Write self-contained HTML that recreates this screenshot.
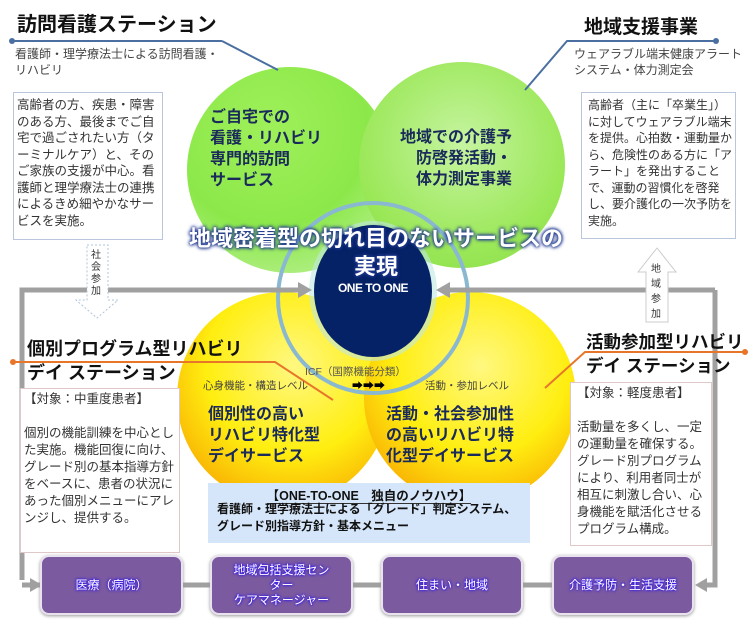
<!DOCTYPE html>
<html><head><meta charset="utf-8"><style>
body{margin:0;width:752px;height:639px;background:#fff;position:relative;overflow:hidden;font-family:"Liberation Sans","Noto Sans CJK JP",sans-serif;}
.a{position:absolute;white-space:nowrap;}
.h{font-weight:bold;color:#111;font-size:19px;}
.box{position:absolute;border:1px solid #b9c6dc;background:#fff;font-size:12.5px;color:#333;line-height:16.5px;padding:4px 5px;box-sizing:border-box;white-space:normal;}
.ct{font-weight:bold;color:#1a2a5a;font-size:16px;line-height:21px;}
.pb{position:absolute;background:#7b5aa0;border-radius:9px;border:2px solid #e8e2ee;box-shadow:0 1px 3px #999;color:#fff;font-size:12px;text-shadow:0 0 3px #20f,0 0 2px #20f;display:flex;align-items:center;justify-content:center;text-align:center;line-height:15px;box-sizing:border-box;}
</style></head><body>
<svg width="752" height="639" style="position:absolute;left:0;top:0">
<defs>
<radialGradient id="g" cx="0.4" cy="0.3" r="0.8"><stop offset="0" stop-color="#9ff05a"/><stop offset="0.6" stop-color="#8ce84a"/><stop offset="1" stop-color="#b8f090"/></radialGradient>
<radialGradient id="g2" cx="0.5" cy="0.4" r="0.7"><stop offset="0" stop-color="#c6f4a0"/><stop offset="0.7" stop-color="#9ce85a"/><stop offset="1" stop-color="#8de04a"/></radialGradient>
<radialGradient id="y" cx="0.55" cy="0.35" r="0.75"><stop offset="0" stop-color="#fff880"/><stop offset="0.55" stop-color="#ffee10"/><stop offset="1" stop-color="#f7a000"/></radialGradient>
</defs>
<circle cx="290" cy="170" r="103" fill="url(#g)"/>
<circle cx="462" cy="165" r="103" fill="url(#g2)"/>
<circle cx="283" cy="398" r="106" fill="url(#y)"/>
<circle cx="470" cy="398" r="106" fill="url(#y)"/>
<circle cx="373" cy="298" r="95" fill="none" stroke="#8ab8d0" stroke-width="4"/>
<ellipse cx="373" cy="291" rx="64" ry="70" fill="#bfe8e0" opacity="0.6"/>
<ellipse cx="373" cy="291" rx="59" ry="66" fill="#062266"/>
<g stroke="#a0a0a0" stroke-width="5" fill="none">
<polyline points="22,580 22,290 300,290"/>
<polyline points="22,585 40,585"/>
<polyline points="715,290 715,585 700,585"/>
<polyline points="715,290 448,290"/>
<line x1="182" y1="585" x2="552" y2="585"/>
</g>
<polygon points="312,290 298,282 298,298" fill="#a0a0a0"/>
<polygon points="436,290 450,282 450,298" fill="#a0a0a0"/>
<polygon points="42,585 30,578 30,592" fill="#a0a0a0"/>
<polygon points="695,585 707,578 707,592" fill="#a0a0a0"/>
<line x1="10" y1="41" x2="222" y2="41" stroke="#4a6fa0" stroke-width="2"/>
<line x1="222" y1="41" x2="278" y2="70" stroke="#4a6fa0" stroke-width="2"/>
<circle cx="12" cy="41" r="3" fill="#4a6fa0"/>
<polyline points="525,90 567,41 716,41" stroke="#4a6fa0" stroke-width="2" fill="none"/>
<circle cx="716" cy="41" r="3" fill="#4a6fa0"/>
<polyline points="12,362 275,362 333,400" stroke="#e8762a" stroke-width="2" fill="none"/>
<circle cx="13" cy="362" r="3" fill="#e8762a"/>
<polyline points="545,388 585,352 745,352" stroke="#e8762a" stroke-width="2" fill="none"/>
<circle cx="745" cy="352" r="3" fill="#e8762a"/>
<polygon points="87,245 108,245 108,300 118,300 97,318 76,300 87,300" fill="#fff" stroke="#b0c4d8" stroke-dasharray="2,2"/>
<polygon points="638,272 657,248 676,272 668,272 668,322 646,322 646,272" fill="#fff" stroke="#ccc"/>
<rect x="208" y="483" width="322" height="60" fill="#d6e6fa"/>
</svg>
<div class="a h" style="left:17px;top:8px;font-size:20px;">訪問看護ステーション</div>
<div class="a" style="left:15px;top:46px;font-size:12px;color:#444;line-height:16px;">看護師・理学療法士による訪問看護・<br>リハビリ</div>
<div class="box" style="left:13px;top:92px;width:150px;height:148px;padding:4px 3px;">高齢者の方、疾患・障害のある方、最後までご自宅で過ごされたい方（ターミナルケア）と、そのご家族の支援が中心。看護師と理学療法士の連携によるきめ細やかなサービスを実施。</div>
<div class="a" style="left:91px;top:250px;font-size:10px;color:#333;line-height:12px;width:12px;white-space:normal;">社会参加</div>
<div class="a h" style="left:584px;top:12px;">地域支援事業</div>
<div class="a" style="left:574px;top:46px;font-size:12px;color:#444;line-height:16px;">ウェアラブル端末健康アラート<br>システム・体力測定会</div>
<div class="box" style="left:581px;top:92px;width:155px;height:147px;font-size:12px;padding:4px 3px 4px 6px;">高齢者（主に「卒業生」）に対してウェアラブル端末を提供。心拍数・運動量から、危険性のある方に「アラート」を発出することで、運動の習慣化を啓発し、要介護化の一次予防を実施。</div>
<div class="a" style="left:651px;top:262px;font-size:10px;color:#333;line-height:15px;width:12px;white-space:normal;">地域参加</div>
<div class="a ct" style="left:210px;top:107px;">ご自宅での<br>看護・リハビリ<br>専門的訪問<br>サービス</div>
<div class="a ct" style="left:400px;top:127px;text-align:right;">地域での介護予<br>防啓発活動・<br>体力測定事業</div>
<div class="a" style="left:176px;top:225px;width:400px;text-align:center;font-size:22px;font-weight:bold;color:#fff;text-shadow:0 0 3px #223a90,0 0 3px #223a90,0 0 5px #223a90;line-height:28px;">地域密着型の切れ目のないサービスの<br>実現</div>
<div class="a" style="left:313px;top:281px;width:120px;text-align:center;font-size:12px;font-weight:bold;color:#fff;letter-spacing:-0.5px;">ONE TO ONE</div>
<div class="a h" style="left:27px;top:337px;line-height:24px;font-size:18px;">個別プログラム型リハビリ<br>デイ ステーション</div>
<div class="box" style="left:20px;top:388px;width:160px;height:165px;border-color:#e0c8c8;padding:2px 3px;font-size:12.5px;line-height:17px;">【対象：中重度患者】<br><br>個別の機能訓練を中心とした実施。機能回復に向け、グレード別の基本指導方針をベースに、患者の状況にあった個別メニューにアレンジし、提供する。</div>
<div class="a" style="left:203px;top:378px;font-size:10.5px;color:#444;">心身機能・構造レベル</div>
<div class="a" style="left:305px;top:364px;font-size:10.5px;color:#555;">ICF（国際機能分類）</div>
<div class="a" style="left:352px;top:377px;font-size:11px;color:#000;">➡➡➡</div>
<div class="a" style="left:425px;top:378px;font-size:10.5px;color:#444;">活動・参加レベル</div>
<div class="a ct" style="left:208px;top:404px;">個別性の高い<br>リハビリ特化型<br>デイサービス</div>
<div class="a ct" style="left:386px;top:404px;">活動・社会参加性<br>の高いリハビリ特<br>化型デイサービス</div>
<div class="a h" style="left:586px;top:330px;line-height:24px;font-size:17.5px;">活動参加型リハビリ<br>デイ ステーション</div>
<div class="box" style="left:570px;top:382px;width:142px;height:164px;border-color:#e0c8c8;padding:2px 3px 2px 6px;font-size:12.5px;line-height:17px;">【対象：軽度患者】<br><br>活動量を多くし、一定の運動量を確保する。グレード別プログラムにより、利用者同士が相互に刺激し合い、心身機能を賦活化させるプログラム構成。</div>
<div class="a" style="left:208px;top:485px;width:322px;text-align:center;font-size:12.5px;font-weight:bold;color:#111;"><span style="border-bottom:1px solid #333;">【ONE-TO-ONE　独自のノウハウ】</span></div>
<div class="a" style="left:217px;top:501px;font-size:12px;font-weight:bold;color:#111;line-height:17px;">看護師・理学療法士による「グレード」判定システム、<br>グレード別指導方針・基本メニュー</div>
<div class="pb" style="left:40px;top:555px;width:143px;height:60px;">医療（病院）</div>
<div class="pb" style="left:210px;top:555px;width:143px;height:60px;">地域包括支援セン<br>ター<br>ケアマネージャー</div>
<div class="pb" style="left:381px;top:555px;width:142px;height:60px;">住まい・地域</div>
<div class="pb" style="left:552px;top:555px;width:142px;height:60px;">介護予防・生活支援</div>
</body></html>
